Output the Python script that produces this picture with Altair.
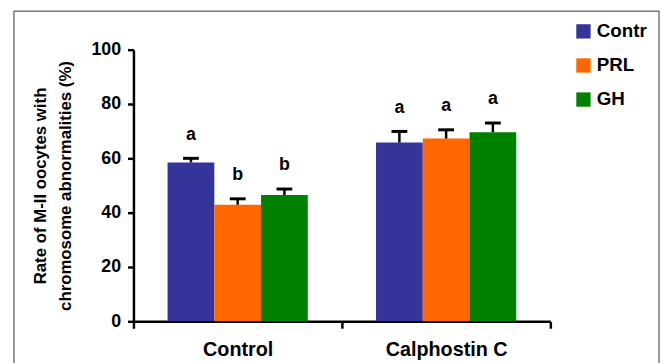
import altair as alt
import pandas as pd

groups = ["Control", "Control", "Control", "Calphostin C", "Calphostin C", "Calphostin C"]
treatments = ["Contr", "PRL", "GH", "Contr", "PRL", "GH"]
means = [58.5, 42.9, 46.5, 65.8, 67.3, 69.6]
errors = [1.5, 2.2, 2.2, 4.1, 3.2, 3.4]
letters = ["a", "b", "b", "a", "a", "a"]

group_order = ["Control", "Calphostin C"]
treat_order = ["Contr", "PRL", "GH"]
colors = ["#35349a", "#ff6600", "#008000"]
y_ticks = [0, 20, 40, 60, 80, 100]

FONT = "Liberation Sans"

df = pd.DataFrame({
    "group": groups,
    "treat": treatments,
    "mean": means,
    "se": errors,
    "letter": letters,
})
df["top"] = df["mean"] + df["se"]

base = alt.Chart(df).encode(
    x=alt.X(
        "group:N",
        sort=group_order,
        scale=alt.Scale(paddingInner=0, paddingOuter=0),
        axis=alt.Axis(
            title=None,
            labelAngle=0,
            tickBand="extent",
            tickSize=7,
            labelPadding=12,
            labelFontSize=20,
        ),
    ),
    xOffset=alt.XOffset(
        "treat:N", sort=treat_order, scale=alt.Scale(paddingOuter=0.73, paddingInner=0)
    ),
)

yscale = alt.Scale(domain=[0, 100])

bars = base.mark_bar().encode(
    y=alt.Y(
        "mean:Q",
        scale=yscale,
        axis=alt.Axis(
            values=y_ticks,
            grid=False,
            tickSize=6,
            labelPadding=7,
            labelFontSize=18,
            title=["Rate of M-II oocytes with", "chromosome abnormalities (%)"],
            titleFontSize=17,
            titleFontWeight="bold",
            titleFont=FONT,
            titleColor="black",
            titleLineHeight=25,
            titlePadding=17,
        ),
    ),
    color=alt.Color(
        "treat:N",
        sort=treat_order,
        scale=alt.Scale(domain=treat_order, range=colors),
        legend=alt.Legend(
            title=None,
            orient="none",
            legendX=446,
            legendY=-28,
            symbolType="square",
            symbolSize=210,
            symbolStrokeWidth=0,
            symbolOpacity=1,
            labelOffset=4,
            labelFontSize=19,
            rowPadding=14.5,
            padding=0,
        ),
    ),
)

err = base.mark_rule(color="black", strokeWidth=2.5).encode(
    y=alt.Y("mean:Q", scale=yscale), y2="top:Q"
)
caps = base.mark_tick(color="black", thickness=3, size=16, opacity=1).encode(
    y=alt.Y("top:Q", scale=yscale)
)
labels = base.mark_text(
    dy=-19, fontSize=18, fontWeight="bold", font=FONT, color="black", baseline="alphabetic"
).encode(y=alt.Y("top:Q", scale=yscale), text="letter:N")

frame = alt.Chart(pd.DataFrame({"k": [0]})).mark_rect(
    fillOpacity=0, stroke="#777777", strokeWidth=1.5
).encode(
    x=alt.value(-121), x2=alt.value(532), y=alt.value(-39), y2=alt.value(400)
)

chart = alt.layer(frame, bars, err, caps, labels).properties(
    width=422,
    height=275,
    autosize=alt.AutoSizeParams(type="none"),
    padding={"left": 127, "top": 40, "right": 111, "bottom": 40},
    background="white",
).configure_view(stroke=None).configure_axis(
    labelFont=FONT,
    labelFontWeight="bold",
    labelColor="black",
    domainColor="black",
    domainWidth=2.5,
    tickColor="black",
    tickWidth=2.5,
).configure_legend(
    labelFont=FONT,
    labelFontWeight="bold",
    labelColor="black",
    labelLimit=300,
)

chart.save("out.html", embed_options={"renderer": "svg", "actions": False})
